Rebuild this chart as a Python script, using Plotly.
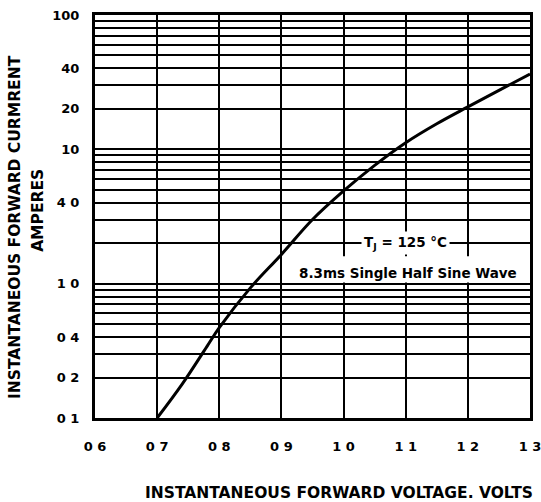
import plotly.graph_objects as go

# Curve (forward voltage, volts -> forward current, amperes)
voltage = [0.70, 0.74, 0.78, 0.80, 0.85, 0.90, 0.95, 1.00, 1.05, 1.10, 1.15, 1.20, 1.25, 1.30]
current = [0.10, 0.178, 0.34, 0.47, 0.93, 1.65, 3.0, 4.9, 7.6, 11.2, 15.5, 20.7, 27.5, 36.3]

x_tick_vals = [0.6, 0.7, 0.8, 0.9, 1.0, 1.1, 1.2, 1.3]
x_tick_text = ["0 6", "0 7", "0 8", "0 9", "1 0", "1 1", "1 2", "1 3"]
y_tick_vals = [0.1, 0.2, 0.4, 1, 4, 10, 20, 40, 100]
y_tick_text = ["0 1", "0 2", "0 4", "1 0", "4 0", "10", "20", "40", "100"]
y_minor_vals = [m * d for d in (0.1, 1, 10) for m in (2, 3, 4, 5, 6, 7, 8, 9)]

FONT = "DejaVu Sans"

fig = go.Figure()
fig.add_trace(go.Scatter(
    x=voltage, y=current, mode="lines",
    line=dict(color="black", width=3, shape="spline", smoothing=1.0),
    hoverinfo="skip", showlegend=False,
))

# white box behind the conditions note
fig.add_shape(type="rect", xref="x", yref="y", x0=0.915, x1=1.2955, y0=1.02, y1=1.6,
              fillcolor="white", line=dict(width=0), layer="above")

fig.add_annotation(x=1.10, y=0.301, xref="x", yref="y", text="T<sub>J</sub> = 125 °C",
                   showarrow=False, bgcolor="white", borderpad=2,
                   font=dict(family=FONT, size=13.5, color="black", weight="bold"))
fig.add_annotation(x=1.104, y=0.08, xref="x", yref="y", text="8.3ms Single Half Sine Wave",
                   showarrow=False,
                   font=dict(family=FONT, size=13.5, color="black", weight="bold"))

fig.add_annotation(x=-0.184, y=0.474, xref="paper", yref="paper",
                   text="INSTANTANEOUS FORWARD CURMRENT",
                   textangle=-90, showarrow=False, xanchor="center", yanchor="middle",
                   font=dict(family=FONT, size=15.5, color="black", weight="bold"))
fig.add_annotation(x=-0.131, y=0.514, xref="paper", yref="paper",
                   text="AMPERES",
                   textangle=-90, showarrow=False, xanchor="center", yanchor="middle",
                   font=dict(family=FONT, size=15.5, color="black", weight="bold"))
fig.add_annotation(x=0.561, y=-0.185, xref="paper", yref="paper",
                   text="INSTANTANEOUS FORWARD VOLTAGE. VOLTS",
                   showarrow=False, yanchor="middle",
                   font=dict(family=FONT, size=15.5, color="black", weight="bold"))

fig.update_xaxes(
    range=[0.6, 1.3], tickvals=x_tick_vals, ticktext=x_tick_text,
    showgrid=True, gridcolor="black", gridwidth=2,
    showline=True, linecolor="black", linewidth=3, mirror=True,
    ticks="", ticklabelstandoff=14, zeroline=False, automargin=False,
    ticklabeloverflow="allow",
    tickfont=dict(family=FONT, size=13, color="black", weight="bold"),
)
fig.update_yaxes(
    type="log", range=[-1, 2], tickvals=y_tick_vals, ticktext=y_tick_text,
    showgrid=True, gridcolor="black", gridwidth=2,
    minor=dict(tickvals=y_minor_vals, showgrid=True, gridcolor="black", gridwidth=1.5),
    showline=True, linecolor="black", linewidth=3, mirror=True,
    ticks="", ticklabelstandoff=10, zeroline=False, automargin=False,
    ticklabeloverflow="allow",
    tickfont=dict(family=FONT, size=13, color="black", weight="bold"),
)
fig.update_layout(
    width=541, height=502,
    margin=dict(l=95, r=11, t=15, b=84),
    plot_bgcolor="white", paper_bgcolor="white",
    showlegend=False,
)
fig.write_html("out.html", config={"displayModeBar": False},
               post_script="document.body.style.margin='0px';document.body.style.overflow='hidden';")
